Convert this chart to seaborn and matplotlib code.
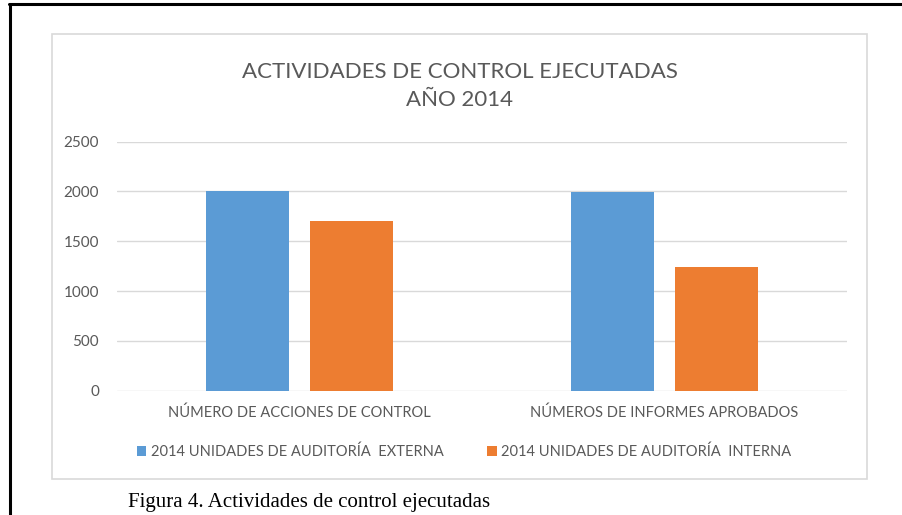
import pandas as pd
import seaborn as sns
import matplotlib.pyplot as plt
from matplotlib.patches import Rectangle
from matplotlib.lines import Line2D

# Datos
categorias = ["NÚMERO DE ACCIONES DE CONTROL", "NÚMEROS DE INFORMES APROBADOS"]
series = ["2014 UNIDADES DE AUDITORÍA  EXTERNA", "2014 UNIDADES DE AUDITORÍA  INTERNA"]
externa = [2005, 1990]
interna = [1700, 1240]
ticks_y = [0, 500, 1000, 1500, 2000, 2500]

df = pd.DataFrame({
    "categoria": categorias * 2,
    "valor": externa + interna,
    "serie": [series[0]] * len(categorias) + [series[1]] * len(categorias),
})

gris = "#595959"
sns.set_theme(style="white")
plt.rcParams["font.family"] = ["Lato", "DejaVu Sans"]

W, H = 902, 515
fig = plt.figure(figsize=(W / 100, H / 100), dpi=100)

# marco negro exterior (arriba e izquierda)
fig.add_artist(Line2D([9 / W, 1], [1 - 3.5 / H] * 2, color="black", lw=2.2, transform=fig.transFigure))
fig.add_artist(Line2D([10 / W] * 2, [0, 1 - 3.5 / H], color="black", lw=2.2, transform=fig.transFigure))

# borde del area del grafico
fig.add_artist(Rectangle((52 / W, 1 - 479 / H), 815 / W, 445 / H, transform=fig.transFigure,
                         fill=False, edgecolor="#D9D9D9", lw=1.2))

ax = fig.add_axes([117 / W, 1 - 390.7 / H, 730 / W, 249 / H])
sns.barplot(data=df, x="categoria", y="valor", hue="serie", palette=["#5B9BD5", "#ED7D31"],
            saturation=1, width=0.57, gap=0.21, linewidth=0, ax=ax)

ax.set_ylim(0, 2500)
ax.set_yticks(ticks_y)
ax.yaxis.grid(True, color="#D9D9D9", lw=1)
ax.set_axisbelow(True)
sns.despine(ax=ax, left=True, bottom=True)
ax.set_xlabel("")
ax.set_ylabel("")
ax.tick_params(axis="y", length=0, pad=13, labelsize=11, labelcolor=gris)
ax.tick_params(axis="x", length=0, pad=11, labelsize=10.5, labelcolor=gris)

handles, labels = ax.get_legend_handles_labels()
ax.get_legend().remove()
fig.legend(handles, labels, loc="center", bbox_to_anchor=(464 / W, 1 - 452 / H), ncol=2,
           frameon=False, fontsize=10.5, labelcolor=gris, handlelength=0.65, handleheight=0.65,
           handletextpad=0.3, columnspacing=3.0)

fig.text(460 / W, 1 - 86 / H, "ACTIVIDADES DE CONTROL EJECUTADAS\nAÑO 2014", ha="center", va="center",
         fontsize=16, color=gris, linespacing=1.5)

fig.text(128 / W, 1 - 502 / H, "Figura 4. Actividades de control ejecutadas", ha="left", va="center",
         fontsize=15, color="black", family="Liberation Serif")

fig.savefig("out.png", dpi=100)
